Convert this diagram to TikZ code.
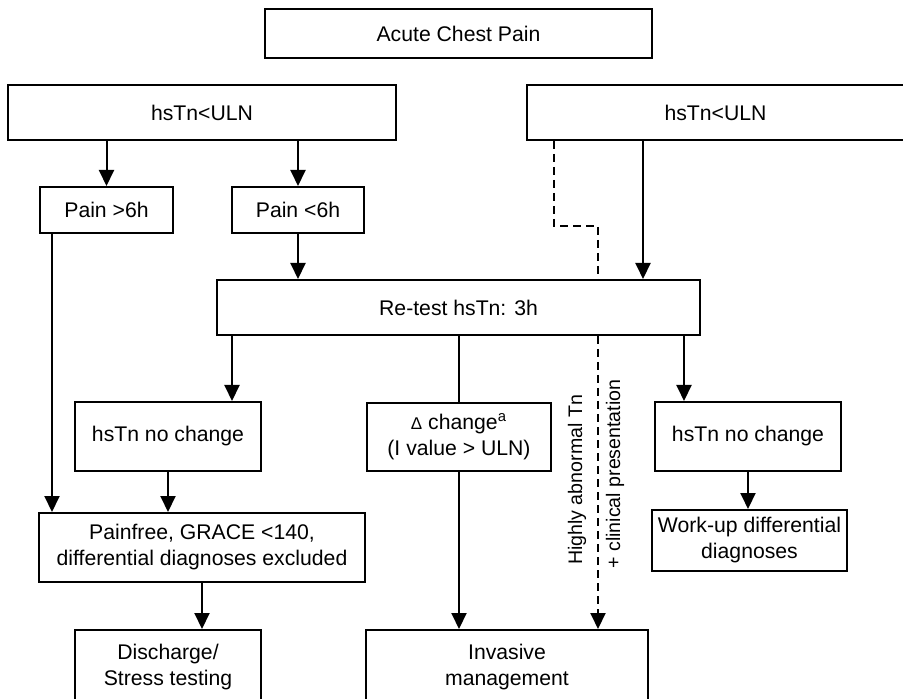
\documentclass[tikz,border=0pt]{standalone}
\usepackage{fontspec}
\setmainfont{Liberation Sans}
\usetikzlibrary{arrows.meta,positioning}

\begin{document}
\begin{tikzpicture}[x=0.5pt, y=-0.5pt, line width=1pt, >={Triangle[length=8pt,width=7.5pt]},
    box/.style = {draw, rectangle, align=center, inner sep=0pt, font=\fontsize{10.6}{13}\selectfont},
    lbl/.style = {rotate=90, inner sep=0pt, font=\fontsize{9.8}{12}\selectfont},
    tratt/.style = {dash pattern=on 4pt off 2.5pt}]
    \useasboundingbox (0,0) rectangle (903,699);
    % I riquadri

    \node[box, minimum width=193.5pt, minimum height=24.5pt] (chest) at (458.5,33.5) {Acute Chest Pain};

    \node[box, minimum width=194pt, minimum height=27.5pt] (lowtn) at (202,112.5) {hsTn<ULN};
    \node[box, minimum width=188.5pt, minimum height=27.5pt] (hightn) at (715.5,112.5) {hsTn<ULN};

    \node[box, minimum width=66.5pt, minimum height=23pt] (late) at (106.5,210) {Pain >6h};
    \node[box, minimum width=66pt, minimum height=23pt] (early) at (298,210) {Pain <6h};

    \node[box, minimum width=241.5pt, minimum height=27.5pt] (retest) at (458.5,307.5) {Re-test hsTn: 3h};

    \node[box, minimum width=93pt, minimum height=34.5pt] (nochgL) at (168,436.5) {hsTn no change};
    \node[box, minimum width=92pt, minimum height=34pt] (delta) at (459,437) {{\fontsize{8.5}{10}\selectfont Δ} change\textsuperscript{a}\\(I value > ULN)};
    \node[box, minimum width=93pt, minimum height=34.5pt] (nochgR) at (748,436.5) {hsTn no change};

    \node[box, minimum width=163pt, minimum height=34.5pt] (painfree) at (202,547.5) {Painfree, GRACE <140,\\differential diagnoses excluded};
    \node[box, minimum width=97.5pt, minimum height=30.5pt] (workup) at (749.5,540.5) {Work-up differential\\diagnoses};

    \node[box, minimum width=93pt, minimum height=37.5pt] (discharge) at (168,667.5) {Discharge/\\Stress testing};
    \node[box, minimum width=141pt, minimum height=37.5pt] (invasive) at (507,667.5) {Invasive\\management};

    % punti di appoggio per le frecce
    \coordinate (a1) at (52,0);
    \coordinate (a2) at (232,0);
    \coordinate (a3) at (684,0);
    \coordinate (a4) at (643,0);
    \coordinate (a5) at (554,0);
    \coordinate (a6) at (598,226);

    % Le frecce
    \draw[->] (late.north |- lowtn.south) to (late.north);
    \draw[->] (early.north |- lowtn.south) to (early.north);
    \draw[->] (early.south) to (early.south |- retest.north);
    \draw[->] (hightn.south -| a4) to (retest.north -| a4);

    \draw[->] (late.south -| a1) to (painfree.north -| a1);
    \draw[->] (retest.south -| a2) to (nochgL.north -| a2);
    \draw[->] (nochgL.south) to (nochgL.south |- painfree.north);
    \draw[->] (painfree.south) to (painfree.south |- discharge.north);

    \draw (retest.south -| delta) to (delta.north);
    \draw[->] (delta.south) to (delta.south |- invasive.north);

    \draw[->] (retest.south -| a3) to (nochgR.north -| a3);
    \draw[->] (nochgR.south) to (nochgR.south |- workup.north);

    % percorso tratteggiato
    \draw[tratt] (hightn.south -| a5) |- (a6) -- (retest.north -| a6);
    \draw[tratt, ->] (retest.south -| a6) to (invasive.north -| a6);

    \node[lbl] (abn) at (577,480) {Highly abnormal Tn};
    \node[lbl] (clin) at (615,474) {+ clinical presentation};

\end{tikzpicture}
\end{document}
